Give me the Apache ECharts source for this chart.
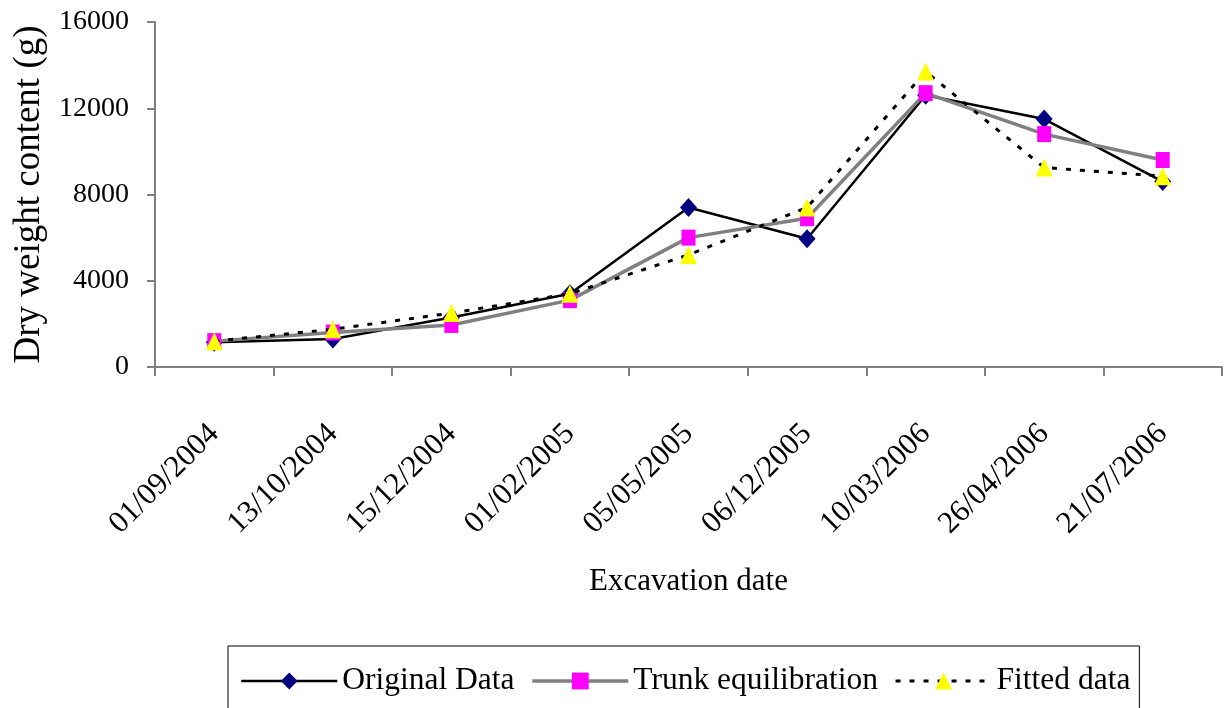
<!DOCTYPE html>
<html>
<head>
<meta charset="utf-8">
<title>Dry weight content by excavation date</title>
<script src="https://cdn.jsdelivr.net/npm/echarts@6/dist/echarts.min.js"></script>
<style>
  html, body { margin: 0; padding: 0; background: #ffffff; }
  #chart { width: 1230px; height: 708px; }
</style>
</head>
<body>
<div id="chart"></div>
<script>
// Excavation dates (category axis)
const categories = ['01/09/2004', '13/10/2004', '15/12/2004', '01/02/2005', '05/05/2005',
                    '06/12/2005', '10/03/2006', '26/04/2006', '21/07/2006'];
// Dry weight content (g) per series
const originalData = [1150, 1300, 2300, 3400, 7400, 5950, 12600, 11500, 8600];
const trunkEquilibration = [1200, 1600, 1950, 3100, 6000, 6900, 12700, 10800, 9600];
const fittedData = [1200, 1750, 2500, 3400, 5200, 7400, 13700, 9250, 8850];
// Value axis ticks
const yMin = 0, yMax = 16000, yStep = 4000;

const serif = "'Liberation Serif', 'Times New Roman', serif";
const axisGray = '#808080';

const chart = echarts.init(document.getElementById('chart'), null, { renderer: 'canvas' });

chart.setOption({
  backgroundColor: '#ffffff',
  animation: false,
  textStyle: { fontFamily: serif, color: '#000' },
  grid: {
    left: 155, right: 8, top: 22, bottom: 341,
    containLabel: false,
    outerBoundsMode: 'none'
  },
  legend: {
    left: 228,
    top: 646,
    orient: 'horizontal',
    padding: [19, 9, 20, 12],
    itemGap: 16,
    itemWidth: 96,
    itemHeight: 21,
    borderColor: '#000',
    borderWidth: 1,
    borderRadius: 0,
    lineStyle: { width: 'inherit' },
    textStyle: { fontFamily: serif, fontSize: 31.5, color: '#000' },
    data: ['Original Data', 'Trunk equilibration', 'Fitted data']
  },
  xAxis: {
    type: 'category',
    data: categories,
    boundaryGap: true,
    name: 'Excavation date',
    nameLocation: 'middle',
    nameGap: 199,
    nameTextStyle: { fontFamily: serif, fontSize: 31, color: '#000' },
    axisLine: { show: true, lineStyle: { color: axisGray, width: 2 } },
    axisTick: { show: true, length: 9, lineStyle: { color: axisGray, width: 2 } },
    axisLabel: {
      rotate: 45,
      margin: 62,
      fontFamily: serif,
      fontSize: 31,
      color: '#000',
      interval: 0
    },
    splitLine: { show: false }
  },
  yAxis: {
    type: 'value',
    min: yMin,
    max: yMax,
    interval: yStep,
    name: 'Dry weight content (g)',
    nameLocation: 'middle',
    nameRotate: 90,
    nameGap: 106,
    nameTextStyle: { fontFamily: serif, fontSize: 37, color: '#000' },
    axisLine: { show: true, lineStyle: { color: axisGray, width: 2 } },
    axisTick: { show: true, length: 8, lineStyle: { color: axisGray, width: 2 } },
    axisLabel: {
      margin: 26,
      fontFamily: serif,
      fontSize: 28,
      color: '#000',
      formatter: (v) => String(v)
    },
    splitLine: { show: false }
  },
  series: [
    {
      name: 'Original Data',
      type: 'line',
      data: originalData,
      symbol: 'diamond',
      symbolSize: [17, 19],
      lineStyle: { color: '#000000', width: 2.5 },
      itemStyle: { color: '#000080' },
      z: 2
    },
    {
      name: 'Trunk equilibration',
      type: 'line',
      data: trunkEquilibration,
      symbol: 'rect',
      symbolSize: [14, 16],
      lineStyle: { color: '#808080', width: 3.5 },
      itemStyle: { color: '#ff00ff' },
      z: 3
    },
    {
      name: 'Fitted data',
      type: 'line',
      data: fittedData,
      symbol: 'triangle',
      symbolSize: [17, 18],
      lineStyle: { color: '#000000', width: 3, type: [5, 9] },
      itemStyle: { color: '#ffff00' },
      z: 4
    }
  ]
});
</script>
</body>
</html>
